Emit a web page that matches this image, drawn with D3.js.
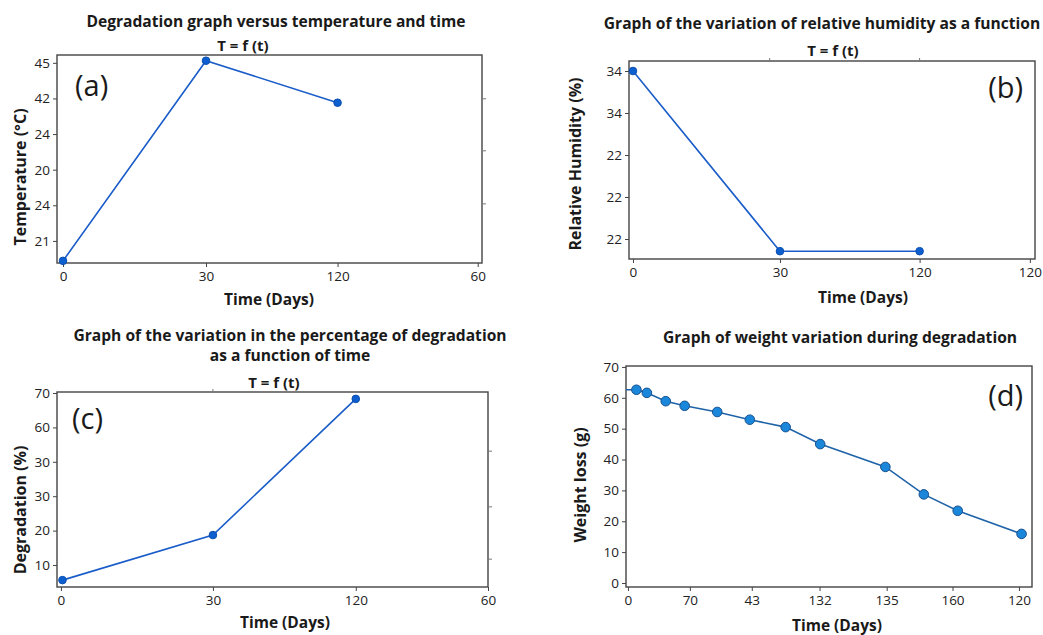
<!DOCTYPE html>
<html>
<head>
<meta charset="utf-8">
<script src="https://cdn.jsdelivr.net/npm/d3@7"></script>
<style>
  body { margin: 0; background: #fff; }
  text { font-family: "Open Sans", "DejaVu Sans", sans-serif; fill: #1a1a1a; }
</style>
</head>
<body>
<div id="chart"></div>
<script>
// ---- data (x positions are tick slots, labels as printed on the figure) ----

// (a) temperature
const aXTicks = [0, 1, 1.92, 2.9];
const aXLabels = ["0", "30", "120", "60"];
const aYTicks = [0, 1, 2, 3, 4, 5];
const aYLabels = ["21", "24", "20", "24", "42", "45"];
const aX = [0, 1, 1.92];
const aY = [-0.56, 5.06, 3.88];
const aRightTicks = [1.04, 2.53, 3.99];

// (b) relative humidity
const bXTicks = [0, 1, 1.95, 2.7];
const bXLabels = ["0", "30", "120", "120"];
const bYTicks = [0, 1, 2, 3, 4];
const bYLabels = ["22", "22", "22", "34", "34"];
const bX = [0, 1, 1.95];
const bY = [4.0, -0.29, -0.29];
const bTopTicks = [0.93, 1.95];

// (c) percentage of degradation
const cXTicks = [0, 1, 1.94, 2.81];
const cXLabels = ["0", "30", "120", "60"];
const cYTicks = [0, 1, 2, 3, 4, 5];
const cYLabels = ["10", "20", "30", "30", "60", "70"];
const cX = [0.01, 1, 1.94];
const cY = [-0.44, 0.87, 4.83];
const cRightTicks = [0.17, 1.69, 3.31];
const cTopTicks = [1.0];

// (d) weight loss
const dXTicks = [0, 0.95, 1.9, 2.94, 3.97, 4.98, 6.0];
const dXLabels = ["0", "70", "43", "132", "135", "160", "120"];
const dYTicks = [0, 10, 20, 30, 40, 50, 60, 70];
const dX = [0.13, 0.29, 0.58, 0.87, 1.37, 1.87, 2.42, 2.95, 3.95, 4.54, 5.06, 6.04];
const dY = [62.6, 61.6, 58.9, 57.4, 55.4, 52.9, 50.5, 45.0, 37.6, 28.7, 23.4, 15.9];

// ---- drawing ----
const svg = d3.select("#chart")
    .append("svg")
    .attr("width", 1043)
    .attr("height", 635);

function drawPanel(p) {
    const x = d3.scaleLinear().domain(p.xDomain).range([p.box[0], p.box[2]]);
    const y = d3.scaleLinear().domain(p.yDomain).range([p.box[3], p.box[1]]);
    const g = svg.append("g");

    // frame
    g.append("rect")
        .attr("x", p.box[0]).attr("y", p.box[1])
        .attr("width", p.box[2] - p.box[0]).attr("height", p.box[3] - p.box[1])
        .attr("fill", "#fff").attr("stroke", "#444").attr("stroke-width", 1.4);

    // bottom axis
    const xa = g.append("g")
        .attr("transform", `translate(0,${p.box[3]})`)
        .call(d3.axisBottom(x).tickValues(p.xTicks)
            .tickFormat((d, i) => p.xLabels[i]).tickSize(4).tickSizeOuter(0).tickPadding(4));
    // left axis
    const ya = g.append("g")
        .attr("transform", `translate(${p.box[0]},0)`)
        .call(d3.axisLeft(y).tickValues(p.yTicks)
            .tickFormat((d, i) => p.yLabels ? p.yLabels[i] : d).tickSize(4).tickSizeOuter(0).tickPadding(3));
    [xa, ya].forEach(a => {
        a.select(".domain").remove();
        a.selectAll(".tick line").attr("stroke", "#444");
        a.selectAll(".tick text").style("font-size", "13.5px").style("fill", "#222");
    });

    // stray ticks on the right / top edges
    if (p.rightTicks) {
        g.selectAll(".rt").data(p.rightTicks).join("line")
            .attr("x1", p.box[2]).attr("x2", p.box[2] + 4)
            .attr("y1", d => y(d)).attr("y2", d => y(d))
            .attr("stroke", "#777");
    }
    if (p.topTicks) {
        g.selectAll(".tt").data(p.topTicks).join("line")
            .attr("x1", d => x(d)).attr("x2", d => x(d))
            .attr("y1", p.box[1]).attr("y2", p.box[1] - 3)
            .attr("stroke", "#777");
    }

    // series
    let pts = p.xs.map((v, i) => ({ x: v, y: p.ys[i] }));
    let linePts = p.leadIn ? [{ x: p.xDomain[0], y: p.ys[0] }].concat(pts) : pts;
    g.append("path")
        .datum(linePts)
        .attr("fill", "none")
        .attr("stroke", p.lineColor)
        .attr("stroke-width", 1.6)
        .attr("d", d3.line().x(d => x(d.x)).y(d => y(d.y)));
    g.selectAll(".pt").data(pts).join("circle")
        .attr("cx", d => x(d.x)).attr("cy", d => y(d.y))
        .attr("r", p.r)
        .attr("fill", p.dotFill)
        .attr("stroke", p.dotStroke)
        .attr("stroke-width", 1);

    // titles
    p.title.forEach((t, i) => {
        svg.append("text")
            .attr("x", p.titlePos[0]).attr("y", p.titlePos[1] + i * 20)
            .attr("text-anchor", "middle")
            .style("font-size", "15.6px").style("font-weight", "bold")
            .text(t);
    });
    if (p.sub) {
        svg.append("text")
            .attr("x", p.sub[0]).attr("y", p.sub[1])
            .attr("text-anchor", "middle")
            .style("font-size", "15px").style("font-weight", "bold")
            .text("T = f (t)");
    }
    svg.append("text")
        .attr("x", p.tag[0]).attr("y", p.tag[1])
        .attr("text-anchor", p.tag[2])
        .style("font-size", "29px")
        .text(p.tagText);
    svg.append("text")
        .attr("transform", `translate(${p.yTitlePos[0]},${p.yTitlePos[1]}) rotate(-90)`)
        .attr("text-anchor", "middle")
        .attr("dominant-baseline", "central")
        .style("font-size", "16px").style("font-weight", "bold")
        .text(p.yTitle);
    svg.append("text")
        .attr("x", p.xTitlePos[0]).attr("y", p.xTitlePos[1])
        .attr("text-anchor", "middle")
        .style("font-size", "15.5px").style("font-weight", "bold")
        .text("Time (Days)");
}

const blueA = "#1a5cc8";

drawPanel({
    box: [57, 55, 482, 263], xDomain: [-0.042, 2.93], yDomain: [-0.62, 5.22],
    xTicks: aXTicks, xLabels: aXLabels, yTicks: aYTicks, yLabels: aYLabels,
    xs: aX, ys: aY, rightTicks: aRightTicks,
    lineColor: blueA, dotFill: "#0d5fd0", dotStroke: "#0b4fb0", r: 3.8,
    title: ["Degradation graph versus temperature and time"], titlePos: [276, 27],
    sub: [243, 51], tag: [75, 96, "start"], tagText: "(a)",
    yTitle: "Temperature (°C)", yTitlePos: [20, 177], xTitlePos: [269, 305]
});

drawPanel({
    box: [629, 61, 1035, 259], xDomain: [-0.027, 2.735], yDomain: [-0.476, 4.238],
    xTicks: bXTicks, xLabels: bXLabels, yTicks: bYTicks, yLabels: bYLabels,
    xs: bX, ys: bY, topTicks: bTopTicks,
    lineColor: blueA, dotFill: "#0d5fd0", dotStroke: "#0b4fb0", r: 3.8,
    title: ["Graph of the variation of relative humidity as a function"], titlePos: [822, 29],
    sub: [833, 56], tag: [1023, 98, "end"], tagText: "(b)",
    yTitle: "Relative Humidity (%)", yTitlePos: [575, 164], xTitlePos: [863, 303]
});

drawPanel({
    box: [57, 392, 488, 587], xDomain: [-0.026, 2.81], yDomain: [-0.64, 5.03],
    xTicks: cXTicks, xLabels: cXLabels, yTicks: cYTicks, yLabels: cYLabels,
    xs: cX, ys: cY, rightTicks: cRightTicks, topTicks: cTopTicks,
    lineColor: blueA, dotFill: "#0d5fd0", dotStroke: "#0b4fb0", r: 3.8,
    title: ["Graph of the variation in the percentage of degradation", "as a function of time"],
    titlePos: [290, 341],
    sub: [274, 388], tag: [72, 429, "start"], tagText: "(c)",
    yTitle: "Degradation (%)", yTitlePos: [20, 510], xTitlePos: [285, 628]
});

drawPanel({
    box: [626, 366, 1032, 587], xDomain: [-0.03, 6.2], yDomain: [-1.3, 70.3],
    xTicks: dXTicks, xLabels: dXLabels, yTicks: dYTicks, yLabels: null,
    xs: dX, ys: dY, leadIn: true,
    lineColor: "#1f63a8", dotFill: "#1b87db", dotStroke: "#17518f", r: 4.8,
    title: ["Graph of weight variation during degradation"], titlePos: [840, 343],
    sub: null, tag: [1023, 406, "end"], tagText: "(d)",
    yTitle: "Weight loss (g)", yTitlePos: [580, 485], xTitlePos: [837, 631]
});
</script>
</body>
</html>
